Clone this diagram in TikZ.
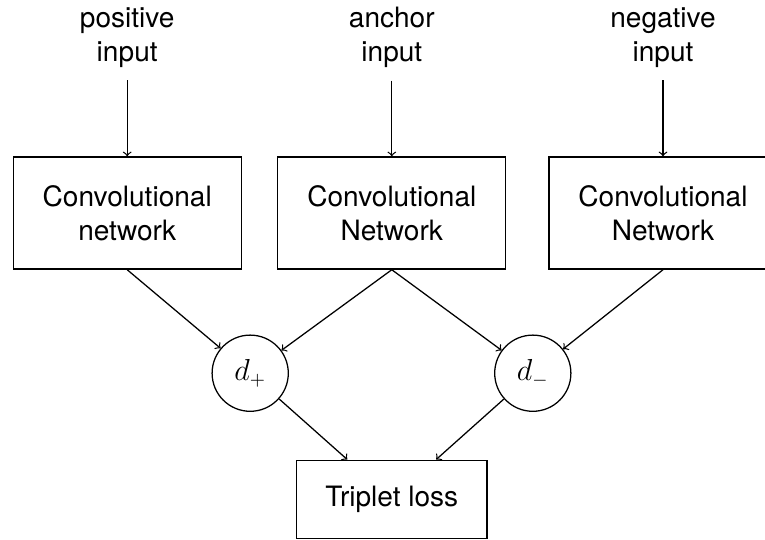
\documentclass[tikz,border=0pt]{standalone}
\usepackage{amsmath}
\usepackage{fontspec}
\setmainfont{TeX Gyre Heros}
\usepackage{tikz}

\tikzset{
  txt/.style={font=\fontsize{13.3}{16.1}\selectfont, align=center},
  netbox/.style={txt, draw, line width=0.6pt, minimum width=3.80cm, minimum height=1.87cm},
  lossbox/.style={txt, draw, line width=0.6pt, minimum width=3.17cm, minimum height=1.30cm},
  dist/.style={txt, draw, circle, line width=0.6pt, minimum size=1.27cm, inner sep=0pt},
  inlabel/.style={txt, inner sep=6pt},
  link/.style={->, line width=0.6pt},
}

\begin{document}
\begin{tikzpicture}

	\useasboundingbox (0.00cm,0.00cm) rectangle (12.75cm,-9.00cm);

	%Inputs
	\node[inlabel] (PosIn) at (2.12cm,-0.62cm) {positive\\input};
	\node[inlabel] (AncIn) at (6.53cm,-0.62cm) {anchor\\input};
	\node[inlabel] (NegIn) at (11.05cm,-0.62cm) {negative\\input};

	%Networks
	\node[netbox] (PosNet) at (2.12cm,-3.55cm) {Convolutional\\network};
	\node[netbox] (AncNet) at (6.53cm,-3.55cm) {Convolutional\\Network};
	\node[netbox] (NegNet) at (11.05cm,-3.55cm) {Convolutional\\Network};

	%Distances
	\node[dist] (DPlus) at (4.17cm,-6.22cm) {\(d_{+}\)};
	\node[dist] (DMinus) at (8.88cm,-6.22cm) {\(d_{-}\)};

	%Loss
	\node[lossbox] (Loss) at (6.53cm,-8.32cm) {Triplet loss};

	%Connectors
	\draw[link] (PosIn) -- (PosNet);
	\draw[link] (AncIn) -- (AncNet);
	\draw[link] (NegIn) -- (NegNet);

	\draw[link] (PosNet.south) -- (DPlus);
	\draw[link] (AncNet.south) -- (DPlus);
	\draw[link] (AncNet.south) -- (DMinus);
	\draw[link] (NegNet.south) -- (DMinus);

	\draw[link] (DPlus) -- (Loss);
	\draw[link] (DMinus) -- (Loss);

\end{tikzpicture}
\end{document}
